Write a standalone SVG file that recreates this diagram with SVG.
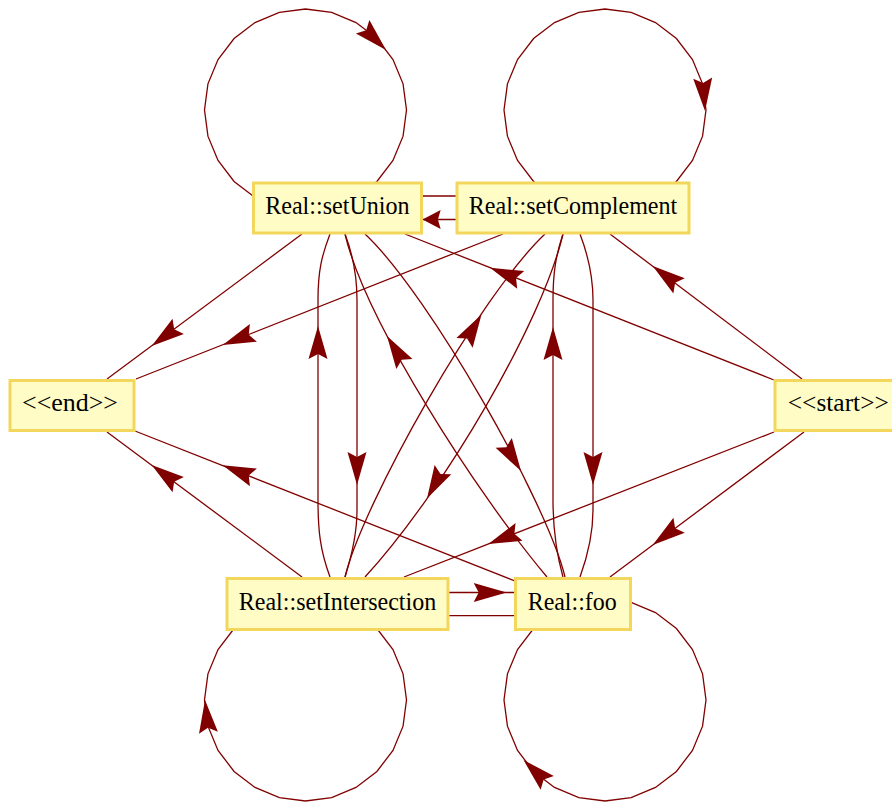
<svg xmlns="http://www.w3.org/2000/svg" xmlns:xlink="http://www.w3.org/1999/xlink" width="892" height="802" viewBox="0 0 892 802">
<defs>
<style>
.edge{fill:none;stroke:#800000;stroke-width:1.3}
.head{fill:#800000;stroke:none}
.node rect{fill:#fffcc6;stroke:#f2d75c;stroke-width:3}
.node text{font-family:"Liberation Serif","Times New Roman",serif;font-size:26px;fill:#000;text-anchor:middle}
</style>
<path id="ah" d="M0,0 L-33,-9.5 L-28,0 L-33,9.5 Z"/>
<polygon id="loop" points="101,0 97.56,26.14 87.47,50.5 71.42,71.42 50.5,87.47 26.14,97.56 0,101 -26.14,97.56 -50.5,87.47 -71.42,71.42 -87.47,50.5 -97.56,26.14 -101,0 -97.56,-26.14 -87.47,-50.5 -71.42,-71.42 -50.5,-87.47 -26.14,-97.56 0,-101 26.14,-97.56 50.5,-87.47 71.42,-71.42 87.47,-50.5 97.56,-26.14"/>
</defs>
<rect width="892" height="802" fill="#ffffff"/>
<g id="connectors">
  <!-- self loops -->
  <use href="#loop" class="edge" transform="translate(305.5,110)"/>
  <use href="#loop" class="edge" transform="translate(605,110)"/>
  <use href="#loop" class="edge" transform="translate(305.5,700)"/>
  <use href="#loop" class="edge" transform="translate(605,700)"/>
  <use href="#ah" class="head" transform="translate(386,50) rotate(45)"/>
  <use href="#ah" class="head" transform="translate(705,111) rotate(86)"/>
  <use href="#ah" class="head" transform="translate(205,700) rotate(-96)"/>
  <use href="#ah" class="head" transform="translate(523.5,760) rotate(-136)"/>

  <!-- edges to end -->
  <path class="edge" d="M302,234 L107,379"/>
  <use href="#ah" class="head" transform="translate(151.7,346) rotate(143.4)"/>
  <path class="edge" d="M503,234 L136,379"/>
  <use href="#ah" class="head" transform="translate(222.7,345) rotate(158.4)"/>
  <path class="edge" d="M302,577 L107,432"/>
  <use href="#ah" class="head" transform="translate(151.7,465) rotate(-143.4)"/>
  <path class="edge" d="M520,583 L135,431"/>
  <use href="#ah" class="head" transform="translate(222.7,465.3) rotate(-158.5)"/>

  <!-- edges from start -->
  <path class="edge" d="M774,380 L405,234"/>
  <use href="#ah" class="head" transform="translate(490,267.7) rotate(-158.4)"/>
  <path class="edge" d="M802,379 L610,234"/>
  <use href="#ah" class="head" transform="translate(652.7,266) rotate(-143.1)"/>
  <path class="edge" d="M774,432 L404,577"/>
  <use href="#ah" class="head" transform="translate(488.3,544) rotate(158.6)"/>
  <path class="edge" d="M804,432 L610,577"/>
  <use href="#ah" class="head" transform="translate(652.7,545) rotate(143.2)"/>

  <!-- setUnion / setIntersection -->
  <path class="edge" d="M330,577 C320,550 318,530 318,500 L318,300 C318,270 322,255 330,234"/>
  <use href="#ah" class="head" transform="translate(318,326) rotate(-90)"/>
  <path class="edge" d="M345,234 C353,255 357,275 357,300 L357,510 C357,535 352,555 345,577"/>
  <use href="#ah" class="head" transform="translate(357,485) rotate(90)"/>

  <!-- setComplement / foo -->
  <path class="edge" d="M563,577 C556,552 553,530 553,500 L553,300 C553,272 556,255 563,234"/>
  <use href="#ah" class="head" transform="translate(553,327) rotate(-90)"/>
  <path class="edge" d="M580,234 C588,255 593,275 593,300 L593,510 C593,535 588,555 580,577"/>
  <use href="#ah" class="head" transform="translate(593,485) rotate(90)"/>

  <!-- setUnion / foo -->
  <path class="edge" d="M547,577 C477,494 365,320 345,234"/>
  <use href="#ah" class="head" transform="translate(387,336) rotate(-121.8)"/>
  <path class="edge" d="M365,234 C430,295 548,505 565,577"/>
  <use href="#ah" class="head" transform="translate(521,471) rotate(58.4)"/>

  <!-- setComplement / setIntersection -->
  <path class="edge" d="M345,577 C362,505 480,295 545,234"/>
  <use href="#ah" class="head" transform="translate(481.5,314.5) rotate(-59)"/>
  <path class="edge" d="M563,234 C543,320 445,490 365,577"/>
  <use href="#ah" class="head" transform="translate(427,498.5) rotate(118.9)"/>

  <!-- setUnion / setComplement -->
  <path class="edge" d="M422,196 L456,196"/>
  <path class="edge" d="M456,219.5 L422,219.5"/>
  <use href="#ah" class="head" transform="translate(422.5,219.5) rotate(180) scale(0.55,1)"/>

  <!-- setIntersection / foo -->
  <path class="edge" d="M449,592.5 L514,592.5"/>
  <use href="#ah" class="head" transform="translate(506.7,592.5)"/>
  <path class="edge" d="M514,615.7 L449,615.7"/>
</g>
<g id="node-setUnion" class="node">
  <rect x="253.5" y="183" width="168" height="50"/>
  <text x="337.4" y="214" textLength="144.5" lengthAdjust="spacingAndGlyphs">Real::setUnion</text>
</g>
<g id="node-setComplement" class="node">
  <rect x="457" y="183" width="232" height="50"/>
  <text x="573" y="214" textLength="208.5" lengthAdjust="spacingAndGlyphs">Real::setComplement</text>
</g>
<g id="node-end" class="node">
  <rect x="10" y="380.5" width="124" height="50"/>
  <text x="70" y="411" textLength="96" lengthAdjust="spacingAndGlyphs">&lt;&lt;end&gt;&gt;</text>
</g>
<g id="node-start" class="node">
  <rect x="775" y="380.5" width="127" height="50"/>
  <text x="838.3" y="411" textLength="101" lengthAdjust="spacingAndGlyphs">&lt;&lt;start&gt;&gt;</text>
</g>
<g id="node-setIntersection" class="node">
  <rect x="227" y="578.5" width="221" height="51"/>
  <text x="337.5" y="610" textLength="197.5" lengthAdjust="spacingAndGlyphs">Real::setIntersection</text>
</g>
<g id="node-foo" class="node">
  <rect x="515.5" y="578.5" width="115" height="51"/>
  <text x="572.2" y="610" textLength="89" lengthAdjust="spacingAndGlyphs">Real::foo</text>
</g>
</svg>
